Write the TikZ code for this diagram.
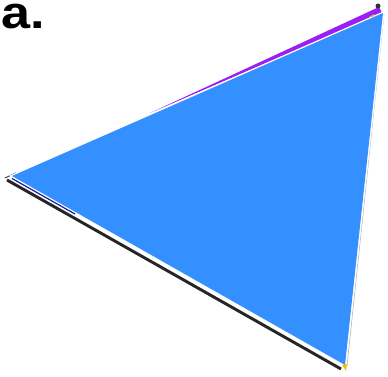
\documentclass[tikz,border=0pt]{standalone}
\usepackage{fontspec}
\setmainfont{Liberation Sans}
\definecolor{triblue}{HTML}{3390FE}
\definecolor{edgepurple}{HTML}{9B1EF5}
\definecolor{edgenavy}{HTML}{1C1CA0}
\definecolor{tipyellow}{HTML}{F5BE00}
\begin{document}
\begin{tikzpicture}[x=0.75pt,y=-0.75pt]
  \useasboundingbox (0,0) rectangle (388,377);
  \coordinate (L) at (12,176);
  \coordinate (T) at (383,13);
  \coordinate (B) at (345,365);
  % shadow lines behind the triangle
  \draw[black!85, line width=2.2pt] (7,180) -- (341,369);
  \draw[black!70, line width=0.8pt] (5,178) -- (16,173);
  \draw[black!25, line width=0.6pt] (384,14) -- (347,366);
  \fill[edgepurple] (150,113) -- (379,7) -- (382,13) -- cycle;
  \fill[black!80] (378,6) circle (2.5);
  % white rim, then the blue face
  \draw[white, line width=2pt, line join=miter] (L) -- (T) -- (B) -- cycle;
  \draw[edgenavy, line width=0.9pt] (12,178.5) -- (75,214);
  \fill[triblue] (L) -- (T) -- (B) -- cycle;
  \fill[tipyellow] (342,365) -- (347,364) -- (346,371) -- cycle;
  \fill[tipyellow] (369,17) -- (374,14) -- (373,17) -- cycle;
  \node[anchor=base west, inner sep=0pt, xscale=1.15, font=\fontsize{34}{34}\selectfont\bfseries] (label) at (1,29) {a.};
\end{tikzpicture}
\end{document}
